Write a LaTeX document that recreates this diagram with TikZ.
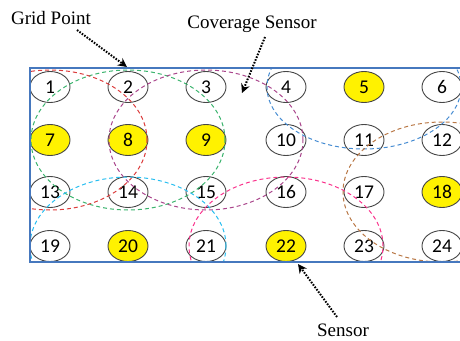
\documentclass[tikz,border=0pt]{standalone}
\usepackage{fontspec}
\setmainfont{Liberation Serif}
\newfontfamily\numfont{Carlito}
\usetikzlibrary{shapes.geometric,arrows.meta}
\definecolor{cgreen}{RGB}{60,180,110}
\definecolor{cred}{RGB}{220,60,60}
\definecolor{cpurple}{RGB}{170,70,140}
\definecolor{cblue}{RGB}{70,140,210}
\definecolor{ccyan}{RGB}{40,190,240}
\definecolor{cpink}{RGB}{250,50,140}
\definecolor{cbrown}{RGB}{185,120,70}
\definecolor{frameblue}{RGB}{70,120,190}
\definecolor{nodeline}{RGB}{70,70,70}
\tikzset{
  gridpt/.style={ellipse, draw=nodeline, line width=0.9pt, minimum width=40pt, minimum height=31pt, inner sep=0pt, font=\numfont\fontsize{19.5}{19.5}\selectfont},
  sensorpt/.style={gridpt, fill=yellow},
  cov/.style={dash pattern=on 4pt off 3pt, line width=1pt},
  lbl/.style={font=\fontsize{19}{19}\selectfont, inner sep=0pt},
  ptr/.style={dash pattern=on 1.6pt off 1.4pt, line width=2pt, -{Stealth[length=9pt,width=9pt,inset=3pt,sep=0pt]}}
}
\begin{document}
\begin{tikzpicture}[x=1pt,y=-1pt]
\clip (0,0) rectangle (460,340);
\useasboundingbox (0,0) rectangle (460,340);
\coordinate (fa) at (30,68);
\coordinate (fb) at (480,262);
% grid points
\foreach \n/\x/\y/\s in {1/50/87/gridpt,2/128/87/gridpt,3/206/87/gridpt,4/286/87/gridpt,5/364/87/sensorpt,6/442/87/gridpt,
  7/50/140/sensorpt,8/128/140/sensorpt,9/206/140/sensorpt,10/286/140/gridpt,11/364/140/gridpt,12/442/140/gridpt,
  13/50/192/gridpt,14/128/192/gridpt,15/206/192/gridpt,16/286/192/gridpt,17/364/192/gridpt,18/442/192/sensorpt,
  19/50/246/gridpt,20/128/246/sensorpt,21/206/246/gridpt,22/286/246/sensorpt,23/364/246/gridpt,24/442/246/gridpt}
  \node[\s] (g\n) at (\x,\y) {\n};
% coverage ellipses
\begin{scope}
\clip (fa) rectangle (fb);
\draw[cov, cgreen] (g8.center) ellipse [x radius=97pt, y radius=70pt];
\draw[cov, cred] (g7.center) ellipse [x radius=97pt, y radius=70pt];
\draw[cov, cpurple] (g9.center) ellipse [x radius=97pt, y radius=70pt];
\draw[cov, cblue] (g5.center) ellipse [x radius=97pt, y radius=62pt];
\draw[cov, ccyan] (g20.center) ellipse [x radius=98pt, y radius=69pt];
\draw[cov, cpink] (g22.center) ellipse [x radius=97pt, y radius=69pt];
\draw[cov, cbrown] (g18.center) ellipse [x radius=99pt, y radius=70pt];
\end{scope}
\draw[frameblue, line width=1.4pt] (fa) rectangle (fb);
% labels
\node[lbl] (lgp) at (51,18) {Grid Point};
\node[lbl] (lcs) at (252,24) {Coverage Sensor};
\node[lbl] (lsn) at (343,330) {Sensor};
\coordinate (gps) at (77,30);
\coordinate (gpe) at (127,67);
\coordinate (css) at (265,37);
\coordinate (cse) at (242,93);
\coordinate (sns) at (337,317);
\coordinate (sne) at (298,264);
\draw[ptr] (gps) -- (gpe);
\draw[ptr] (css) -- (cse);
\draw[ptr] (sns) -- (sne);
\end{tikzpicture}
\end{document}
